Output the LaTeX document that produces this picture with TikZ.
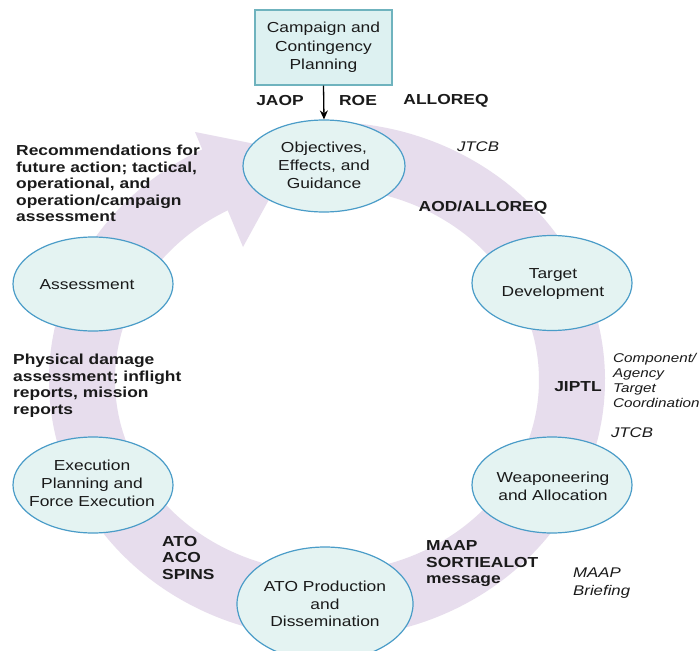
\documentclass[tikz,border=0pt]{standalone}
\usepackage{fontspec}
\setmainfont{Liberation Sans}[FakeStretch=1.2]
\usetikzlibrary{shapes.geometric,arrows.meta}
\definecolor{bandcol}{HTML}{E7DDED}
\definecolor{ellfill}{HTML}{E4F3F2}
\definecolor{elldraw}{HTML}{4A9CC8}
\definecolor{boxfill}{HTML}{DDF1F1}
\definecolor{boxdraw}{HTML}{6FB3BE}
\definecolor{txt}{HTML}{1A1A1A}
\tikzset{
  phase/.style={ellipse, draw=elldraw, fill=ellfill, line width=1.2pt, inner sep=0pt},
  ptext/.style={align=center, inner sep=0pt, text=txt, font=\fontsize{14.5}{17.8}\selectfont},
  boxst/.style={draw=boxdraw, fill=boxfill, line width=1.2pt, inner sep=0pt, align=center, text=txt, font=\fontsize{14.5}{18.5}\selectfont},
  blab/.style={inner sep=0pt, align=left, text=txt, font=\fontsize{14.5}{16.5}\selectfont\bfseries},
  ilab/.style={inner sep=0pt, align=left, text=txt, font=\fontsize{14}{18}\selectfont\itshape},
  islab/.style={inner sep=0pt, align=left, text=txt, font=\fontsize{12.7}{15}\selectfont\itshape}
}
\begin{document}
\begin{tikzpicture}[x=1pt, y=-1pt]
\useasboundingbox (0,0) rectangle (700,650);
\fill[white] (0,0) rectangle (700,650);
% cycle band
\coordinate (cc) at (327,380);
\draw[bandcol, line width=66pt] (cc) ++(-92:245 and 225)
  arc[start angle=-92, end angle=246, x radius=245, y radius=225];
\coordinate (ah1) at (195,132);
\coordinate (ah2) at (243,247);
\coordinate (ahtip) at (295,152);
\fill[bandcol] (ah1) -- (ahtip) -- (ah2) -- cycle;
% box
\node[boxst, minimum width=137pt, minimum height=75pt] (camp) at (323.5,47.5) {Campaign and\\Contingency\\Planning};
% phases
\node[phase, minimum width=162pt, minimum height=92pt] (obj) at (324,166) {};
\node[phase, minimum width=160pt, minimum height=95pt] (tgt) at (552,283) {};
\node[phase, minimum width=160pt, minimum height=96pt] (weap) at (552,485) {};
\node[phase, minimum width=176pt, minimum height=114pt] (ato) at (325,604) {};
\node[phase, minimum width=160pt, minimum height=96pt] (exe) at (93,485) {};
\node[phase, minimum width=160pt, minimum height=94pt] (ass) at (93,284) {};
\node[ptext] (objT) at (324,165.5) {Objectives,\\Effects, and\\Guidance};
\node[ptext] (tgtT) at (553,284) {Target\\Development};
\node[ptext] (weapT) at (553,486) {Weaponeering\\and Allocation};
\node[ptext] (atoT) at (325,604) {ATO Production\\and\\Dissemination};
\node[ptext] (exeT) at (92,483.5) {Execution\\Planning and\\Force Execution};
\node[ptext] (assT) at (87,285) {Assessment};
% arrow
\draw[-{Stealth[length=9pt,width=8pt]}, line width=1.3pt] (camp.south) -- (obj.north);
% labels
\node[blab] (jaop) at (280,101) {JAOP};
\node[blab] (roe) at (358,101) {ROE};
\node[blab] (alloreq) at (446,101) {ALLOREQ};
\node[ilab] (jtcb1) at (478,147) {JTCB};
\node[blab] (aod) at (483,208) {AOD/ALLOREQ};
\node[blab] (jiptl) at (578,387) {JIPTL};
\node[islab, anchor=west] (comp) at (613,380.5) {Component/\\Agency\\Target\\Coordination};
\node[ilab] (jtcb2) at (632,433) {JTCB};
\node[blab, anchor=west] (maap) at (426,564) {MAAP\\SORTIEALOT\\message};
\node[ilab, anchor=west] (maapb) at (573,583) {MAAP\\Briefing};
\node[blab, anchor=west] (atoaco) at (162,557.5) {ATO\\ACO\\SPINS};
\node[blab, anchor=west] (phys) at (13,385.5) {Physical damage\\assessment; inflight\\reports, mission\\reports};
\node[blab, anchor=west] (rec) at (16,183.5) {Recommendations for\\future action; tactical,\\operational, and\\operation/campaign\\assessment};
\end{tikzpicture}
\end{document}
